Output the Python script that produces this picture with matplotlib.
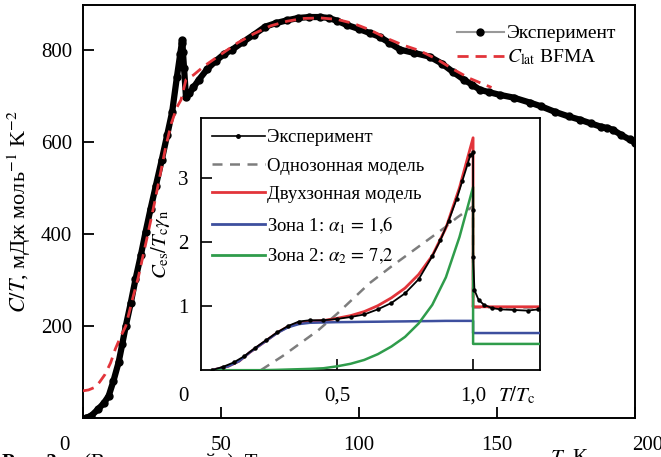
import matplotlib
matplotlib.use("Agg")
import matplotlib.pyplot as plt
from matplotlib.lines import Line2D
from matplotlib.transforms import ScaledTranslation

plt.rcParams['font.family'] = ['Liberation Serif', 'DejaVu Serif']
plt.rcParams['mathtext.fontset'] = 'stix'

# ===== main panel: C/T vs T =====
T_exp = [1, 3, 5.6, 7.5, 9.3, 11, 12.9, 14.2, 15.5, 17.3, 19, 21, 22.7, 24.5, 26.4, 28.5,
         30.5, 32.3, 34, 35.2, 35.8, 36.0, 36.2, 36.6, 37.3, 38.5, 40, 42, 45, 48, 51, 54,
         58, 62, 66, 70, 74, 78, 82, 86, 89, 92, 95.5, 100, 104, 107.5, 111, 115, 120,
         125.6, 130, 134, 138, 141, 143.8, 147, 151, 156, 162, 166, 171, 176, 180, 184,
         187.5, 190, 192, 195, 198, 200]
C_exp = [0, 5, 20, 32, 48, 80, 121, 160, 200, 250, 301, 355, 405, 455, 505, 560,
         615, 665, 740, 790, 815, 821, 795, 760, 698, 705, 718, 735, 758, 775, 790, 800,
         817, 833, 850, 858, 864, 869, 871, 871, 869, 863, 854, 845, 836, 828, 815, 800, 793,
         785, 770, 752, 735, 724, 713, 708, 702, 696, 685, 677, 665, 655, 648, 640,
         633, 630, 626, 615, 605, 598]

T_lat = [0, 2, 4.4, 6, 8, 10, 11.7, 13.5, 15.5, 18, 20, 23.5, 26, 28, 30, 32, 34, 35.5,
         37.3, 40, 44, 50, 56, 62, 68, 74, 80, 86, 92, 98, 104, 110, 116, 122, 128, 134,
         140, 144, 148]
C_lat = [59, 61, 67, 78, 95, 120, 150, 175, 200, 260, 305, 400, 470, 530, 590, 640, 675, 691,
         735, 745, 765, 790, 815, 835, 852, 862, 868, 869, 866, 857, 843, 825, 810, 798, 780, 758,
         738, 728, 718]

x_ticks = [0, 50, 100, 150, 200]
y_ticks = [200, 400, 600, 800]

# ===== inset: C_es/(T_c gamma_n) vs T/T_c =====
t_exp = [0.04, 0.08, 0.12, 0.16, 0.20, 0.24, 0.28, 0.32, 0.36, 0.40, 0.45, 0.50, 0.55,
         0.60, 0.65, 0.70, 0.75, 0.80, 0.85, 0.88, 0.91, 0.94, 0.96, 0.98, 0.99, 1.0,
         1.0, 1.0, 1.005, 1.02, 1.04, 1.07, 1.10, 1.15, 1.20, 1.24]
c_exp = [0.0, 0.05, 0.12, 0.22, 0.35, 0.47, 0.59, 0.69, 0.76, 0.78, 0.78, 0.80, 0.83,
         0.87, 0.95, 1.05, 1.20, 1.42, 1.78, 2.03, 2.33, 2.68, 2.95, 3.22, 3.36, 3.40,
         2.50, 1.77, 1.25, 1.10, 1.02, 0.97, 0.95, 0.94, 0.93, 0.95]

t_one = [0.22, 0.30, 0.43, 0.50, 0.62, 0.70, 0.816, 0.90, 0.94, 1.0, 1.0, 1.25]
c_one = [0.0, 0.22, 0.62, 0.88, 1.36, 1.62, 1.98, 2.24, 2.38, 2.56, 0.98, 0.98]

t_mod = [0.04, 0.10, 0.14, 0.18, 0.23, 0.28, 0.32, 0.36, 0.40, 0.45, 0.50, 0.55, 0.60,
         0.65, 0.70, 0.75, 0.80, 0.85, 0.90, 0.95, 1.0, 1.0, 1.25]
c_zone1 = [0.0, 0.06, 0.14, 0.28, 0.43, 0.58, 0.67, 0.72, 0.74, 0.745, 0.75, 0.752, 0.755,
           0.757, 0.76, 0.762, 0.765, 0.767, 0.77, 0.77, 0.77, 0.58, 0.58]
c_zone2 = [0.0, 0.0, 0.0, 0.0, 0.0, 0.005, 0.01, 0.015, 0.02, 0.03, 0.06, 0.10, 0.16,
           0.25, 0.37, 0.52, 0.73, 1.02, 1.45, 2.08, 2.86, 0.41, 0.41]
c_two = [0.0, 0.06, 0.14, 0.28, 0.43, 0.585, 0.68, 0.735, 0.76, 0.775, 0.81, 0.852, 0.915,
         1.007, 1.13, 1.282, 1.495, 1.787, 2.22, 2.85, 3.63, 0.99, 0.99]

t_ticks = [0, 0.5, 1.0]
t_ticklabels = ['0', '0,5', '1,0']
c_ticks = [1, 2, 3]

RED = '#e2343a'
BLUE = '#3d4f9e'
GREEN = '#2f9c4b'
GRAY = '#7d7d7d'

fig = plt.figure(figsize=(6.61, 4.57), dpi=100)
ax = fig.add_axes([0.1256, 0.0853, 0.8351, 0.9036])

ax.plot(T_exp, C_exp, color='k', lw=4.5, marker='o', ms=5, zorder=2)
ax.plot(T_lat, C_lat, color=RED, lw=2, ls=(0, (4, 2.5)), zorder=3)
ax.set_xlim(0, 200)
ax.set_ylim(0, 897)
ax.set_xticks(x_ticks)
ax.set_yticks(y_ticks)
ax.tick_params(direction='in', length=8, width=1.3, labelsize=15, pad=13, axis='x')
ax.tick_params(direction='in', length=8, width=1.3, labelsize=15, pad=8, axis='y')
for s in ax.spines.values():
    s.set_linewidth(1.4)
xl = ax.get_xticklabels()
xl[0].set_transform(xl[0].get_transform() + ScaledTranslation(-0.19, 0, fig.dpi_scale_trans))
xl[-1].set_transform(xl[-1].get_transform() + ScaledTranslation(0.13, 0, fig.dpi_scale_trans))
ax.set_ylabel('$C/T$, мДж моль$^{-1}$ K$^{-2}$', fontsize=16)
ax.yaxis.set_label_coords(-0.09, 0.5)

h_main = [Line2D([], [], color='#999999', lw=1.5, marker='o', ms=5, mfc='k', mec='k'),
          Line2D([], [], color=RED, lw=2, ls=(0, (4, 2.5)))]
ax.legend(h_main, ['Эксперимент', '$C_{\\rm lat}$ BFMA'], loc='upper right', frameon=False,
          fontsize=14, handlelength=2.4, handletextpad=0.15, labelspacing=0.25,
          borderaxespad=0.3, bbox_to_anchor=(0.99, 0.985))

# inset
axi = fig.add_axes([0.304, 0.190, 0.513, 0.552])
axi.plot(t_mod, c_two, color=RED, lw=2, zorder=2)
axi.plot(t_one, c_one, color=GRAY, lw=1.8, ls=(0, (4, 3)), zorder=1)
axi.plot(t_mod, c_zone1, color=BLUE, lw=1.8, zorder=3)
axi.plot(t_mod, c_zone2, color=GREEN, lw=1.8, zorder=3)
axi.plot(t_exp, c_exp, color='k', lw=1.3, marker='o', ms=2.2, zorder=4)
axi.set_xlim(0, 1.246)
axi.set_ylim(0, 3.94)
axi.set_xticks(t_ticks)
axi.set_xticklabels(t_ticklabels)
axi.set_yticks(c_ticks)
axi.tick_params(direction='in', length=8, width=1.2, labelsize=15, pad=12, axis='x')
axi.tick_params(direction='in', length=8, width=1.2, labelsize=15, pad=9, axis='y')
axi.xaxis.get_major_ticks()[0].tick1line.set_visible(False)
il = axi.get_xticklabels()
il[0].set_transform(il[0].get_transform() + ScaledTranslation(-0.18, 0, fig.dpi_scale_trans))
for s in axi.spines.values():
    s.set_linewidth(1.3)
axi.set_ylabel('$C_{\\rm es}/T_{\\rm c}\\gamma_{\\rm n}$', fontsize=15)
axi.yaxis.set_label_coords(-0.085, 0.5)
axi.text(1.16, -0.1, '$T/T_{\\rm c}$', transform=axi.get_xaxis_transform(),
         fontsize=15, ha='center', va='center')

h_in = [Line2D([], [], color='k', lw=1.2, marker='o', ms=2.5),
        Line2D([], [], color=GRAY, lw=1.8, ls=(0, (4, 3))),
        Line2D([], [], color=RED, lw=2),
        Line2D([], [], color=BLUE, lw=2),
        Line2D([], [], color=GREEN, lw=2)]
axi.legend(h_in, ['Эксперимент', 'Однозонная модель', 'Двухзонная модель',
                  'Зона 1: $\\alpha_1\\,=\\,1{,}6$', 'Зона 2: $\\alpha_2\\,=\\,7{,}2$'],
           loc='upper left', frameon=False, fontsize=13.5, handlelength=2.8,
           handletextpad=0.1, labelspacing=0.6, borderaxespad=0.2,
           bbox_to_anchor=(0.0, 1.0))

# cropped caption and x label at the bottom edge
fig.text(550 / 661, 10 / 457, '$T$, K', fontsize=15, va='top', ha='left')
fig.text(2 / 661, 4 / 457, 'Рис. 3', fontsize=15, va='top', ha='left', fontweight='bold')
fig.text(84 / 661, 4 / 457, '(В цвете онлайн). Т', fontsize=15, va='top', ha='left')

fig.savefig('out.png', dpi=100)
